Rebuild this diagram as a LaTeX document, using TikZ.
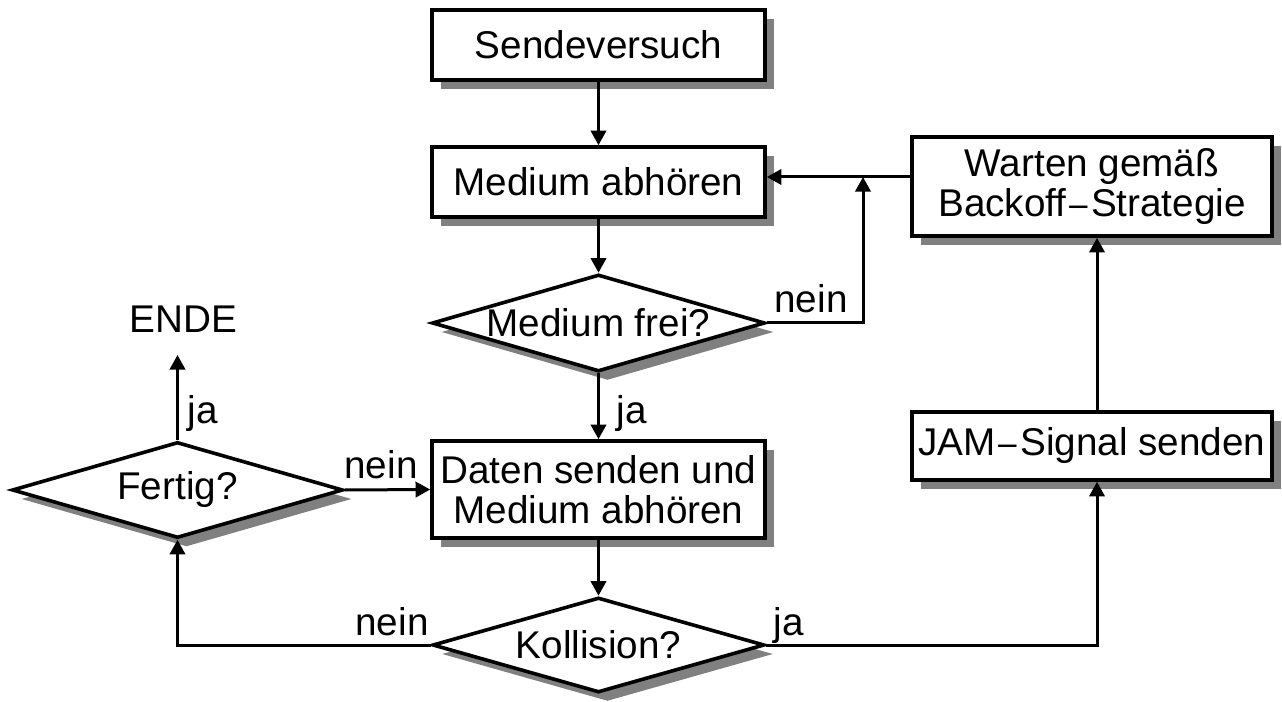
\documentclass[tikz,border=0pt]{standalone}
\usepackage{fontspec}
\setmainfont{Liberation Sans}
\usetikzlibrary{shapes.geometric,shadows,arrows.meta,calc}
\begin{document}
\begin{tikzpicture}[x=0.75pt,y=-0.75pt,
  font=\fontsize{29}{30}\selectfont,
  shad/.style={drop shadow={shadow xshift=6.75pt,shadow yshift=-6.75pt,fill=black!50,opacity=1}},
  procbox/.style={draw,line width=2.7pt,fill=white,rectangle,inner sep=0pt,align=center,shad},
  decision/.style={draw,line width=2.7pt,fill=white,diamond,inner sep=0pt,shad},
  lbl/.style={anchor=base,inner sep=0pt},
  arr/.style={line width=2.25pt,-{Triangle[length=11pt,width=11.5pt]}}]
\useasboundingbox (0,0) rectangle (1282,702);
\node[procbox,minimum width=249.75pt,minimum height=52.5pt] (send) at (598.5,45) {Sendeversuch};
\node[procbox,minimum width=249.75pt,minimum height=52.5pt] (med) at (598.5,182) {Medium abhören};
\node[decision,minimum width=249.75pt,minimum height=72.75pt] (frei) at (598.5,323) {\makebox[0pt]{\raisebox{-3pt}{Medium frei?}}};
\node[procbox,minimum width=249.75pt,minimum height=72.75pt] (daten) at (598.5,489.5) {Daten senden und\\Medium abhören};
\node[decision,minimum width=249pt,minimum height=71.25pt] (koll) at (598.5,645) {\makebox[0pt]{Kollision?}};
\node[decision,minimum width=248.25pt,minimum height=72pt] (fertig) at (177.5,490) {\makebox[0pt]{Fertig?}};
\node[procbox,minimum width=270pt,minimum height=74.25pt] (warten) at (1092,186.5) {Warten gemäß\\Backoff{\fontspec{DejaVu Sans}\fontsize{22}{30}\selectfont −}Strategie};
\node[procbox,minimum width=270pt,minimum height=51pt] (jam) at (1092,446) {JAM{\fontspec{DejaVu Sans}\fontsize{22}{30}\selectfont −}Signal senden};
\node[lbl,outer ysep=16.5pt] (ende) at (183.5,333) {ENDE};
\node[lbl] (nein1) at (811,313) {nein};
\node[lbl] (ja1) at (632,423) {ja};
\node[lbl] (ja2) at (202.5,423) {ja};
\node[lbl] (nein2) at (381,478) {nein};
\node[lbl] (nein3) at (392,635) {nein};
\node[lbl] (ja3) at (789,635) {ja};
\coordinate (j) at (863,177);
\coordinate (wl) at (warten.west |- j);
\coordinate (jamS) at ([xshift=3.75pt]jam.south);
\coordinate (jamN) at ([xshift=3.75pt]jam.north);
\coordinate (wS) at ([xshift=3.75pt]warten.south);
\draw[arr] (send.south) -- (med.north);
\draw[arr] (med.south) -- (frei.north);
\draw[arr] (frei.east) -| (j);
\draw[arr] (wl) -- (wl -| med.east);
\draw[arr] (frei.south) -- (daten.north);
\draw[arr] (fertig.east) -- (daten.west);
\draw[arr] (daten.south) -- (koll.north);
\draw[arr] (koll.west) -| (fertig.south);
\draw[arr] (koll.east) -| (jamS);
\draw[arr] (jamN) -- (wS);
\draw[arr] (fertig.north) -- (fertig.north |- ende.south);
\end{tikzpicture}
\end{document}
